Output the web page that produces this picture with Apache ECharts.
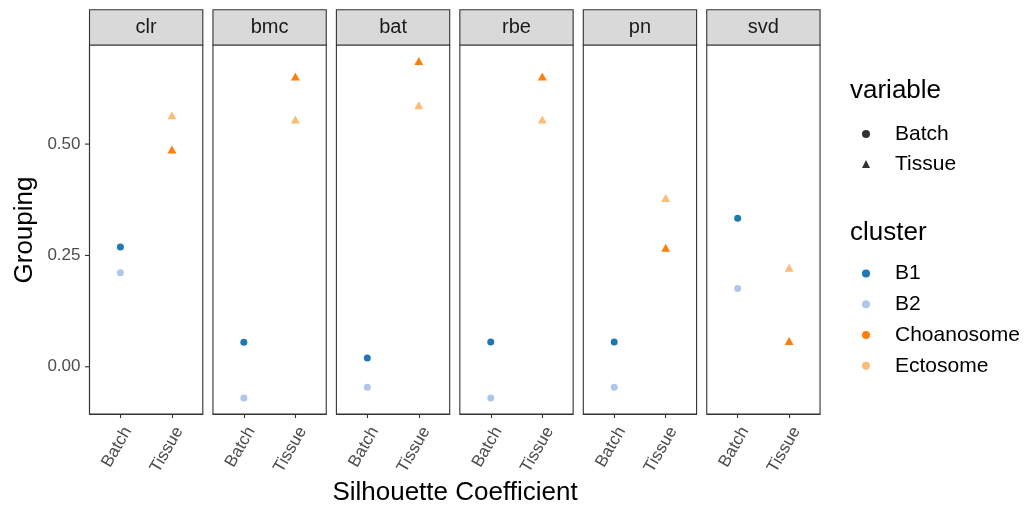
<!DOCTYPE html>
<html>
<head>
<meta charset="utf-8">
<script src="https://cdn.jsdelivr.net/npm/echarts@6/dist/echarts.min.js"></script>
<style>
html,body{margin:0;padding:0;background:#fff;}
#chart{width:1027px;height:508px;}
</style>
</head>
<body>
<div id="chart"></div>
<script>
// ---- data ----
var methods = ['clr', 'bmc', 'bat', 'rbe', 'pn', 'svd'];
var variables = ['Batch', 'Tissue'];
var clusters = ['B1', 'B2', 'Choanosome', 'Ectosome'];
var yTicks = [0, 0.25, 0.5];
// Batch silhouette per method (B1, B2)
var b1 = [0.269, 0.055, 0.020, 0.0555, 0.0555, 0.3335];
var b2 = [0.211, -0.070, -0.046, -0.070, -0.046, 0.176];
// Tissue silhouette per method (Choanosome, Ectosome)
var choanosome = [0.488, 0.652, 0.6865, 0.652, 0.267, 0.058];
var ectosome = [0.565, 0.5555, 0.587, 0.5555, 0.379, 0.2225];

// ---- style / layout ----
var clusterColors = {B1: '#1F77B4', B2: '#AEC7E8', Choanosome: '#FF7F0E', Ectosome: '#FFBB78'};
var clusterVar = {B1: 'Batch', B2: 'Batch', Choanosome: 'Tissue', Ectosome: 'Tissue'};
var clusterVals = {B1: b1, B2: b2, Choanosome: choanosome, Ectosome: ectosome};
var FONT = '"Liberation Sans", Arial, sans-serif';
var gridLeft0 = 89.5, gridStep = 123.45, gridW = 113.3, gridTop = 45, gridH = 369;
var stripTop = 9.7, stripH = 35.3;
var yMin = -0.106, yMax = 0.7225, xMin = 0.4, xMax = 2.6;
var axisLineStyle = {color: '#333333', width: 1.1};

var grids = [], xAxes = [], yAxes = [], series = [], graphics = [];
methods.forEach(function (m, i) {
  var left = gridLeft0 + i * gridStep;
  grids.push({left: left, top: gridTop, width: gridW, height: gridH, show: true,
    borderColor: '#333333', borderWidth: 1.1, backgroundColor: '#ffffff',
    containLabel: false, outerBoundsMode: 'none'});
  xAxes.push({type: 'value', gridIndex: i, min: xMin, max: xMax, position: 'bottom',
    axisLine: {show: true, onZero: false, lineStyle: axisLineStyle}, splitLine: {show: false},
    axisTick: {show: true, length: 4, inside: false, customValues: [1, 2], lineStyle: axisLineStyle},
    axisLabel: {show: true, customValues: [1, 2], rotate: 60, margin: 10, fontSize: 17,
      verticalAlign: 'top', color: '#4D4D4D', fontFamily: FONT,
      formatter: function (v) { return variables[Math.round(v) - 1] || ''; }}});
  yAxes.push({type: 'value', gridIndex: i, min: yMin, max: yMax, show: i === 0, position: 'left',
    axisLine: {show: true, onZero: false, lineStyle: axisLineStyle}, splitLine: {show: false},
    axisTick: {show: false},
    axisLabel: {show: true, customValues: yTicks, margin: 9, fontSize: 17, color: '#4D4D4D',
      fontFamily: FONT, formatter: function (v) { return v.toFixed(2); }}});
  clusters.forEach(function (c) {
    var isTri = clusterVar[c] === 'Tissue';
    series.push({type: 'scatter', name: c, xAxisIndex: i, yAxisIndex: i,
      symbol: isTri ? 'triangle' : 'circle', symbolSize: isTri ? [9, 8] : 7,
      itemStyle: {color: clusterColors[c], opacity: 1},
      emphasis: {disabled: true}, silent: true,
      data: [[variables.indexOf(clusterVar[c]) + 1, clusterVals[c][i]]]});
  });
  graphics.push({type: 'rect', shape: {x: left, y: stripTop, width: gridW, height: stripH},
    style: {fill: '#D9D9D9', stroke: '#333333', lineWidth: 1.1}, silent: true});
  graphics.push({type: 'text', x: left + gridW / 2, y: stripTop + stripH / 2,
    style: {text: m, fill: '#1A1A1A', font: '20px ' + FONT, textAlign: 'center', textVerticalAlign: 'middle'}, silent: true});
});
// legend-only series for the shape legend
variables.forEach(function (v) {
  series.push({type: 'scatter', name: v, xAxisIndex: 0, yAxisIndex: 0, data: [],
    symbol: v === 'Batch' ? 'circle' : 'triangle', itemStyle: {color: '#000000'}});
});
graphics.push({type: 'text', x: 25, y: 230, rotation: Math.PI / 2,
  style: {text: 'Grouping', fill: '#000000', font: '26px ' + FONT, textAlign: 'center', textVerticalAlign: 'middle'}, silent: true});
graphics.push({type: 'text', x: 455, y: 493,
  style: {text: 'Silhouette Coefficient', fill: '#000000', font: '26px ' + FONT, textAlign: 'center', textVerticalAlign: 'middle'}, silent: true});
graphics.push({type: 'text', x: 850, y: 91,
  style: {text: 'variable', fill: '#000000', font: '26px ' + FONT, textAlign: 'left', textVerticalAlign: 'middle'}, silent: true});
graphics.push({type: 'text', x: 850, y: 232.5,
  style: {text: 'cluster', fill: '#000000', font: '26px ' + FONT, textAlign: 'left', textVerticalAlign: 'middle'}, silent: true});

var legendText = {fontSize: 21, color: '#000000', fontFamily: FONT, padding: [0, 0, 0, 20]};
var option = {
  animation: false,
  backgroundColor: '#ffffff',
  textStyle: {fontFamily: FONT},
  grid: grids, xAxis: xAxes, yAxis: yAxes, series: series,
  legend: [
    {orient: 'vertical', left: 862, top: 119, padding: 0, itemGap: 0, itemWidth: 8, itemHeight: 8,
      selectedMode: false, textStyle: Object.assign({lineHeight: 30}, legendText),
      data: [{name: 'Batch', icon: 'circle'}, {name: 'Tissue', icon: 'triangle'}]},
    {orient: 'vertical', left: 862, top: 258, padding: 0, itemGap: 0, itemWidth: 8, itemHeight: 8,
      selectedMode: false, textStyle: Object.assign({lineHeight: 30.8}, legendText),
      data: clusters.map(function (c) { return {name: c, icon: 'circle'}; })}
  ],
  graphic: graphics
};
var chart = echarts.init(document.getElementById('chart'), null, {renderer: 'canvas'});
chart.setOption(option);
// y-axis tick marks, positioned through the axis scale of the first panel
var tickGraphics = yTicks.map(function (v) {
  var p = chart.convertToPixel({gridIndex: 0}, [xMin, v]);
  return {type: 'line', z: 100, shape: {x1: p[0] - 4.5, y1: p[1], x2: p[0], y2: p[1]},
    style: {stroke: '#333333', lineWidth: 1.1}, silent: true};
});
chart.setOption({graphic: graphics.concat(tickGraphics)});
</script>
</body>
</html>
